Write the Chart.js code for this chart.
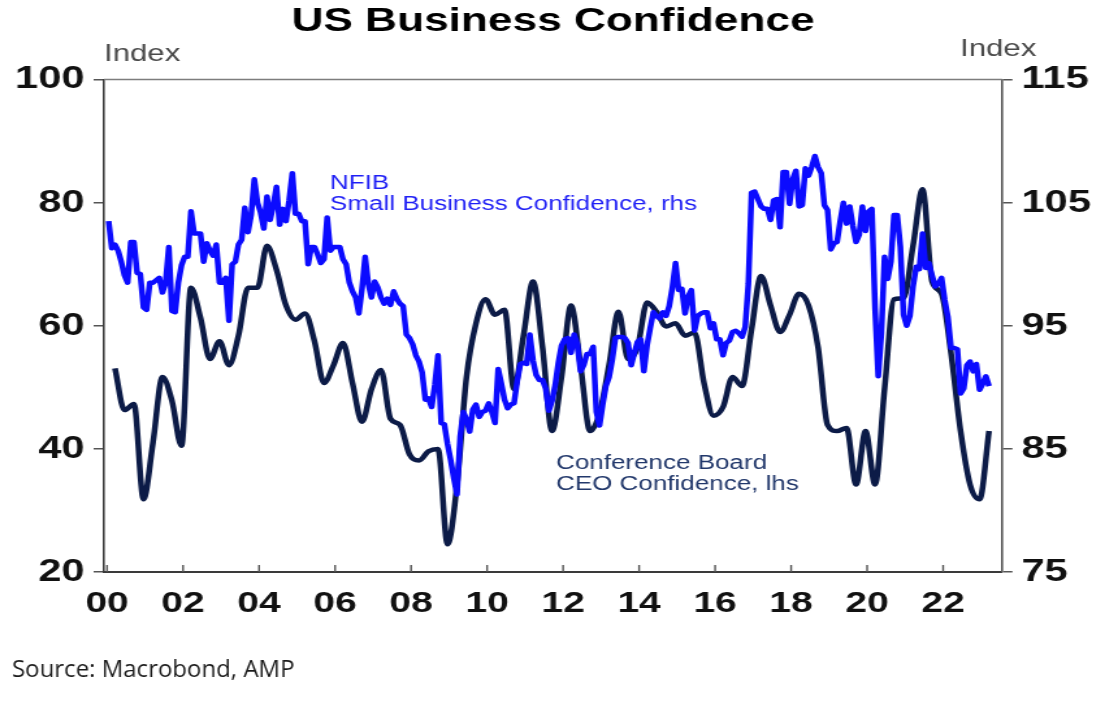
<!DOCTYPE html>
<html>
<head>
<meta charset="utf-8">
<title>US Business Confidence</title>
<script src="https://cdn.jsdelivr.net/npm/chart.js@4.4.1/dist/chart.umd.min.js"></script>
<style>
  html, body { margin: 0; padding: 0; background: #fff; }
</style>
</head>
<body>
<!-- the source chart was pasted stretched sideways, so the canvas is drawn narrow and widened by css -->
<canvas id="chart" width="860" height="704" style="width:1118px;height:704px;display:block"></canvas>
<script>
const S = 1118 / 860;

const yearTicks = [2000, 2002, 2004, 2006, 2008, 2010, 2012, 2014, 2016, 2018, 2020, 2022];
const ceoTicks = [20, 40, 60, 80, 100];
const nfibTicks = [75, 85, 95, 105, 115];

// NFIB small business optimism, monthly from Jan 2000 (rhs)
const nfibValues = [
  103.5, 101.3, 101.6, 101.1, 100.2, 99.1, 98.5, 101.8, 101.8, 99.3, 99.2, 96.5,   // 2000
  96.3, 98.5, 98.5, 98.7, 98.9, 97.7, 98.5, 101.4, 96.2, 96.1, 98.5, 99.9,         // 2001
  100.6, 100.6, 104.3, 102.5, 102.5, 102.5, 100.2, 101.7, 101.1, 100.7, 101.6, 98.5, // 2002
  98.5, 98.9, 95.4, 100.0, 100.2, 101.6, 102.0, 104.6, 102.6, 104.0, 106.9, 105.0, // 2003
  104.2, 102.9, 105.5, 103.6, 104.8, 106.3, 103.2, 104.5, 103.5, 105.2, 107.4, 104.1, // 2004
  104.1, 103.5, 103.5, 100.0, 101.4, 101.4, 100.8, 100.1, 100.4, 103.8, 101.1, 101.4, // 2005
  101.4, 101.4, 100.4, 100.0, 98.5, 97.8, 97.3, 96.0, 98.0, 100.6, 98.4, 97.3,     // 2006
  98.6, 98.1, 97.3, 96.8, 97.2, 96.7, 97.8, 97.2, 96.8, 96.6, 94.3, 94.0,          // 2007
  93.5, 92.6, 92.1, 91.2, 89.0, 89.1, 88.4, 90.2, 92.6, 87.1, 87.0, 85.4,          // 2008
  84.1, 82.6, 81.3, 86.0, 88.0, 87.4, 86.4, 88.2, 88.6, 87.6, 88.0, 88.1,          // 2009
  88.7, 88.0, 87.1, 91.5, 90.3, 89.0, 88.3, 88.6, 88.7, 90.5, 91.9, 92.0,          // 2010
  91.9, 94.3, 92.2, 91.0, 90.6, 90.6, 89.9, 88.1, 88.9, 90.2, 92.0, 93.4,          // 2011
  93.9, 94.0, 92.8, 94.3, 93.5, 91.3, 91.8, 92.7, 92.7, 93.3, 88.0, 86.9,          // 2012
  88.6, 90.1, 90.8, 92.2, 94.0, 94.1, 94.1, 94.0, 93.6, 91.8, 92.8, 93.7,          // 2013
  93.9, 91.3, 93.4, 94.8, 96.1, 95.8, 95.6, 96.1, 95.8, 96.6, 98.1, 100.1,         // 2014
  97.9, 98.0, 96.0, 97.4, 97.9, 94.6, 95.8, 96.0, 96.1, 96.1, 94.8, 95.2,          // 2015
  93.9, 93.9, 92.6, 93.6, 93.8, 94.5, 94.6, 94.4, 94.1, 94.9, 98.4, 105.8,         // 2016
  105.9, 105.3, 104.7, 104.5, 104.5, 103.6, 105.2, 105.3, 103.0, 107.5, 107.5, 104.9, // 2017
  106.9, 107.6, 104.7, 104.8, 107.8, 107.2, 107.9, 108.8, 107.9, 107.4, 104.8, 104.4, // 2018
  101.2, 101.7, 101.8, 103.5, 105.0, 103.3, 104.7, 103.1, 101.8, 102.4, 104.7, 102.7, // 2019
  104.3, 104.5, 96.4, 90.9, 94.4, 100.6, 98.8, 100.2, 104.0, 104.0, 101.4, 95.9,   // 2020
  95.0, 95.8, 98.2, 99.8, 99.6, 102.5, 99.7, 100.1, 99.1, 98.2, 98.4, 98.9,        // 2021
  97.1, 95.7, 93.2, 93.2, 93.1, 89.5, 89.9, 91.8, 92.1, 91.3, 91.9, 89.8,          // 2022
  90.3, 90.9, 90.1                                                                 // 2023
];

// Conference Board CEO confidence, quarterly from Q1 2000 (lhs)
const ceoValues = [
  53.1, 46.3, 47.3, 31.8,  // 2000
  41.0, 51.7, 47.8, 40.5,  // 2001
  66.2, 61.3, 54.6, 57.5,  // 2002
  53.6, 58.4, 66.2, 66.2,  // 2003
  73.0, 69.1, 63.3, 61.0,  // 2004
  62.0, 57.5, 50.7, 53.6,  // 2005
  57.2, 50.7, 44.4, 49.7,  // 2006
  52.8, 44.9, 43.9, 39.1,  // 2007
  38.1, 39.6, 40.0, 24.5,  // 2008
  34.2, 51.7, 60.4, 64.3,  // 2009
  61.8, 62.6, 49.7, 58.4,  // 2010
  67.2, 56.5, 42.9, 51.7,  // 2011
  63.3, 53.6, 42.9, 45.8,  // 2012
  53.6, 62.3, 54.6, 56.5,  // 2013
  63.8, 62.3, 59.9, 60.4,  // 2014
  58.4, 58.9, 50.7, 45.4,  // 2015
  46.8, 51.7, 50.2, 59.4,  // 2016
  68.1, 63.3, 59.0, 61.8,  // 2017
  65.2, 63.3, 56.5, 43.9,  // 2018
  42.9, 43.4, 34.2, 42.9,  // 2019
  34.2, 49.7, 64.3, 64.5,  // 2020
  73.0, 82.2, 67.2, 65.2,  // 2021
  55.5, 42.9, 34.2, 31.8,  // 2022
  42.9                     // 2023
];

// mid-month / last month of quarter positions in decimal years
const nfibPoints = nfibValues.map((v, i) => ({ x: 2000 + (i + 0.5) / 12, y: v }));
const ceoPoints = ceoValues.map((v, i) => ({ x: 2000 + (3 * i + 2.5) / 12, y: v }));

const FONT = '"Liberation Sans", Arial, sans-serif';
Chart.defaults.font.family = FONT;

const decor = {
  id: 'decor',
  afterDraw(chart) {
    const ctx = chart.ctx;
    const a = chart.chartArea;
    const xs = chart.scales.x;
    ctx.save();

    // top edge of the box
    ctx.strokeStyle = '#7d7d7d';
    ctx.lineWidth = 1.5;
    ctx.beginPath();
    ctx.moveTo(a.left, a.top);
    ctx.lineTo(a.right, a.top);
    ctx.stroke();

    // x ticks point inwards
    ctx.strokeStyle = '#555';
    ctx.lineWidth = 1.4;
    ctx.beginPath();
    xs.ticks.forEach(t => {
      const px = xs.getPixelForValue(t.value);
      ctx.moveTo(px, a.bottom);
      ctx.lineTo(px, a.bottom - 7);
    });
    ctx.stroke();

    ctx.textBaseline = 'alphabetic';

    ctx.fillStyle = '#000';
    ctx.textAlign = 'center';
    ctx.font = 'bold 34px ' + FONT;
    ctx.fillText('US Business Confidence', (a.left + a.right) / 2, 31);

    ctx.textAlign = 'left';
    ctx.fillStyle = '#4a4a4a';
    ctx.font = '24px ' + FONT;
    ctx.fillText('Index', a.left, 61);
    ctx.fillText('Index', 960 / S, 56);

    ctx.font = '20px ' + FONT;
    ctx.fillStyle = '#1f1ff5';
    ctx.fillText('NFIB', 330 / S, 189);
    ctx.fillText('Small Business Confidence, rhs', 330 / S, 210);
    ctx.fillStyle = '#22386b';
    ctx.fillText('Conference Board', 556 / S, 469);
    ctx.fillText('CEO Confidence, lhs', 556 / S, 490);

    // source line is not stretched
    ctx.scale(1 / S, 1);
    ctx.fillStyle = '#1a1a1a';
    ctx.font = '24px "Open Sans", sans-serif';
    ctx.fillText('Source: Macrobond, AMP', 12, 677);

    ctx.restore();
  }
};

const tickFont = { size: 32, weight: 'bold' };

const myChart = new Chart(document.getElementById('chart'), {
  type: 'line',
  data: {
    datasets: [
      {
        label: 'NFIB Small Business Confidence, rhs',
        data: nfibPoints,
        yAxisID: 'y1',
        borderColor: '#0b0bff',
        borderWidth: 4.5,
        pointRadius: 0,
        tension: 0,
        borderJoinStyle: 'round'
      },
      {
        label: 'Conference Board CEO Confidence, lhs',
        data: ceoPoints,
        yAxisID: 'y',
        borderColor: '#0c1b47',
        borderWidth: 4.5,
        pointRadius: 0,
        cubicInterpolationMode: 'monotone',
        borderJoinStyle: 'round'
      }
    ]
  },
  options: {
    responsive: false,
    devicePixelRatio: 1,
    animation: false,
    layout: { padding: { top: 79.6, bottom: 82, left: 0, right: 0 } },
    plugins: {
      legend: { display: false },
      tooltip: { enabled: false },
      title: { display: false }
    },
    scales: {
      x: {
        type: 'linear',
        min: 1999.92,
        max: 2023.55,
        afterBuildTicks: s => { s.ticks = yearTicks.map(v => ({ value: v })); },
        afterFit: s => { s.height = 50; },
        grid: { display: false, drawTicks: false },
        border: { display: true, color: '#3a3a3a', width: 2 },
        ticks: {
          autoSkip: false,
          maxRotation: 0,
          padding: 14,
          color: '#111',
          font: { size: 30, weight: 'bold' },
          callback: v => String(v % 100).padStart(2, '0')
        }
      },
      y: {
        position: 'left',
        min: 20,
        max: 100,
        afterBuildTicks: s => { s.ticks = ceoTicks.map(v => ({ value: v })); },
        afterFit: s => { s.width = 80; },
        grid: { drawOnChartArea: false, drawTicks: true, tickLength: 8, color: '#555', lineWidth: 1.5 },
        border: { display: true, color: '#3a3a3a', width: 1.6 },
        ticks: { padding: 7, color: '#111', font: tickFont }
      },
      y1: {
        position: 'right',
        min: 75,
        max: 115,
        afterBuildTicks: s => { s.ticks = nfibTicks.map(v => ({ value: v })); },
        afterFit: s => { s.width = 89.2; },
        grid: { drawOnChartArea: false, drawTicks: true, tickLength: 8, color: '#555', lineWidth: 1.5 },
        border: { display: true, color: '#555', width: 1.6 },
        ticks: { padding: 7, color: '#111', font: tickFont }
      }
    }
  },
  plugins: [decor]
});
</script>
</body>
</html>
